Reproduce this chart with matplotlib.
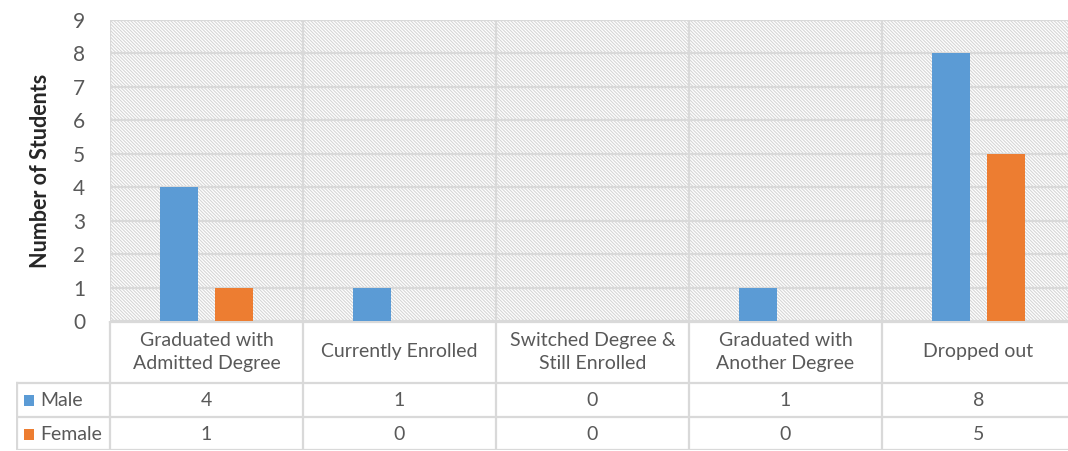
import matplotlib.pyplot as plt
import matplotlib.patches as mpatches
import numpy as np

plt.rcParams['font.family'] = ['Lato', 'DejaVu Sans']
plt.rcParams['hatch.linewidth'] = 0.8

categories = ['Graduated with\nAdmitted Degree', 'Currently Enrolled',
              'Switched Degree &\nStill Enrolled', 'Graduated with\nAnother Degree',
              'Dropped out']
series = ['Male', 'Female']
male = [4, 1, 0, 1, 8]
female = [1, 0, 0, 0, 5]
colors = ['#5b9bd5', '#ed7d31']
yticks = list(range(0, 10))

W, H = 1068, 451
fig = plt.figure(figsize=(W / 100, H / 100), dpi=100)

# main plot area (pixel box 110..1075 x 20..321)
ax = fig.add_axes([110 / W, 1 - 321 / H, 965 / W, 301 / H])
ax.set_xlim(-0.5, 4.5)
ax.set_ylim(0, 9)
ax.add_patch(mpatches.Rectangle((0, 0), 1, 1, transform=ax.transAxes,
                                facecolor='white', edgecolor='#d6d6d6', lw=0,
                                hatch='\\' * 10, zorder=0))
grid_c = '#d9d9d9'
for y in yticks:
    ax.axhline(y, color=grid_c, lw=1.6, zorder=1)
for xv in np.arange(-0.5, 5, 1):
    ax.axvline(xv, color=grid_c, lw=1.6, zorder=1)

x = np.arange(len(categories))
bw = 0.197
ax.bar(x - 0.14, male, bw, color=colors[0], zorder=3)
ax.bar(x + 0.14, female, bw, color=colors[1], zorder=3)

ax.set_yticks(yticks)
ax.set_yticklabels([str(v) for v in yticks], fontsize=15, color='#595959')
ax.tick_params(axis='y', length=0, pad=18)
ax.set_xticks([])
for s in ax.spines.values():
    s.set_visible(False)
ax.set_ylabel('Number of Students', fontsize=15.5, fontweight='bold', color='#262626', labelpad=16)

# data table below (pixel box 16..1075 x 321..450)
tab = fig.add_axes([16 / W, 1 - 450 / H, 1059 / W, 129 / H])
left = -0.5 - 94 / 193
tab.set_xlim(left, 4.5)
tab.set_ylim(129, 0)
tab.axis('off')
lc = '#d9d9d9'
tab.plot([-0.5, 4.5], [0.5, 0.5], color=lc, lw=1.6)
for yv in [62, 96, 128.5]:
    tab.plot([left, 4.5], [yv, yv], color=lc, lw=1.6)
tab.plot([left + 0.003, left + 0.003], [62, 129], color=lc, lw=1.6)
for xv in np.arange(-0.5, 5, 1):
    tab.plot([xv, xv], [0, 129], color=lc, lw=1.6)

txt_c = '#595959'
for i, c in enumerate(categories):
    tab.text(i, 31, c, ha='center', va='center', fontsize=14, color=txt_c, linespacing=1.4)
for r, (name, vals, col) in enumerate(zip(series, [male, female], colors)):
    yc = 79 + r * 34
    tab.add_patch(mpatches.Rectangle((left + 8 / 193, yc - 5.5), 10 / 193, 11,
                                     facecolor=col, edgecolor='none'))
    tab.text(left + 24 / 193, yc, name, ha='left', va='center', fontsize=14, color=txt_c)
    for i, v in enumerate(vals):
        tab.text(i, yc, str(v), ha='center', va='center', fontsize=14, color=txt_c)

plt.savefig('out.png', dpi=100)
